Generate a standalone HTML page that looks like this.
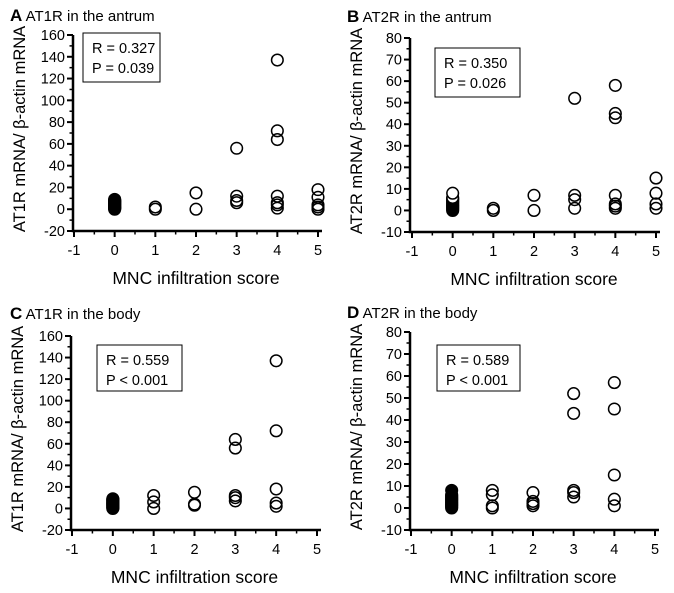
<!DOCTYPE html>
<html><head><meta charset="utf-8"><style>
body{margin:0;background:#fff;width:674px;height:588px;overflow:hidden}
svg text{font-family:"Liberation Sans",sans-serif;fill:#000}
</style></head><body>
<svg id="fig" width="674" height="588" viewBox="0 0 674 588" xmlns="http://www.w3.org/2000/svg"></svg>
<script>
const panelLetters=["A","B","C","D"];
const panelTitles=["AT1R in the antrum","AT2R in the antrum","AT1R in the body","AT2R in the body"];
const yTitles=["AT1R mRNA/ β-actin mRNA","AT2R mRNA/ β-actin mRNA","AT1R mRNA/ β-actin mRNA","AT2R mRNA/ β-actin mRNA"];
const statR=["R = 0.327","R = 0.350","R = 0.559","R = 0.589"];
const statP=["P = 0.039","P = 0.026","P < 0.001","P < 0.001"];
const xTicks=[-1,0,1,2,3,4,5];
const yTicksAT1=[-20,0,20,40,60,80,100,120,140,160];
const yTicksAT2=[-10,0,10,20,30,40,50,60,70,80];
const zeroCluster=[0,0.5,1,1.5,2,2.5,3,3.5,4,4.5,5,5.5,6,6.5,7,7.5,8,8.5,9];
const zeroCluster2=[0,0.5,1,1.5,2,2.5,3,3.5,4,4.5,5,5.5,6,8];
const scoresA=[1,1,2,2,3,3,3,3,4,4,4,4,4,4,4,5,5,5,5,5];
const valuesA=[0,2,15,0,56,12,8,6,137,72,64,12,6,4,1,18,11,4,2,0];
const scoresB=[1,1,2,2,3,3,3,3,4,4,4,4,4,4,4,5,5,5,5];
const valuesB=[0,1,7,0,52,7,5,1,58,45,43,7,3,2,1,15,8,3,1];
const scoresC=[1,1,1,2,2,2,3,3,3,3,3,4,4,4,4,4];
const valuesC=[12,6,0,15,4,3,64,56,12,10,7,137,72,18,5,2];
const scoresD=[1,1,1,1,2,2,2,2,3,3,3,3,3,4,4,4,4,4];
const valuesD=[8,6,1,0,7,3,2,1,52,43,8,7,5,57,45,15,4,1];

const panels=[
 {top:35,bot:231,ax:73,x0:74,x1:318,yt:yTicksAT1,box:[83,33,77,49],ty:15,tx:10,zc:zeroCluster,zfill:true,sc:scoresA,va:valuesA},
 {top:38,bot:232,ax:410,x0:412,x1:656,yt:yTicksAT2,box:[435,48,85,49],ty:16,tx:347,zc:zeroCluster2,zfill:false,sc:scoresB,va:valuesB},
 {top:336,bot:530,ax:71,x0:72,x1:317,yt:yTicksAT1,box:[97,345,85,46],ty:313,tx:10,zc:zeroCluster,zfill:true,sc:scoresC,va:valuesC},
 {top:332,bot:530,ax:410,x0:411,x1:655,yt:yTicksAT2,box:[437,345,83,46],ty:312,tx:347,zc:zeroCluster2,zfill:true,sc:scoresD,va:valuesD}
];
const svg=document.getElementById('fig');
const NS="http://www.w3.org/2000/svg";
function mk(t,a,p){const e=document.createElementNS(NS,t);for(const k in a)e.setAttribute(k,a[k]);(p||svg).appendChild(e);return e;}
panels.forEach((P,i)=>{
  const g=mk('g',{});
  
  
  const ymin=P.yt[0],ymax=P.yt[P.yt.length-1];
  const xs=v=>P.x0+(v-xTicks[0])/(xTicks[xTicks.length-1]-xTicks[0])*(P.x1-P.x0);
  const ys=v=>P.bot-(v-ymin)/(ymax-ymin)*(P.bot-P.top);
  const t=mk('text',{x:P.tx,y:P.ty+6,'font-size':15},g);
  
  
  t.innerHTML='<tspan font-weight="bold" font-size="17">'+panelLetters[i]+'</tspan> '+panelTitles[i];
  const axl=mk('path',{d:`M${P.ax},${P.top}V${P.bot}H${P.x1+4}`,stroke:'#000','stroke-width':2.5,fill:'none'},g);
  
  
  const step=P.yt[1]-P.yt[0];
  P.yt.forEach((v,k)=>{
    mk('line',{x1:P.ax-6,x2:P.ax,y1:ys(v),y2:ys(v),stroke:'#000','stroke-width':2},g);
    if(k<P.yt.length-1){const m=v+step/2;mk('line',{x1:P.ax-3.5,x2:P.ax,y1:ys(m),y2:ys(m),stroke:'#000','stroke-width':1.5},g);}
    const l=mk('text',{x:P.ax-8,y:ys(v)+5,'font-size':14.5,'text-anchor':'end'},g);
    
    
    l.textContent=v;
  });
  xTicks.forEach((v,k)=>{
    mk('line',{x1:xs(v),x2:xs(v),y1:P.bot,y2:P.bot+6,stroke:'#000','stroke-width':2},g);
    if(k<xTicks.length-1){const m=v+0.5;mk('line',{x1:xs(m),x2:xs(m),y1:P.bot,y2:P.bot+3.5,stroke:'#000','stroke-width':1.5},g);}
    const l=mk('text',{x:xs(v),y:P.bot+24,'font-size':14.5,'text-anchor':'middle'},g);
    
    
    l.textContent=v;
  });
  const xt=mk('text',{x:(P.x0+P.x1)/2,y:P.bot+53,'font-size':17.5,'text-anchor':'middle'},g);
  
  
  xt.textContent='MNC infiltration score';
  const cy=(P.top+P.bot)/2-4, cx=P.ax-48;
  const yt=mk('text',{x:cx,y:cy,'font-size':16.5,'text-anchor':'middle',transform:`rotate(-90 ${cx} ${cy})`},g);
  
  
  yt.textContent=yTitles[i];
  const b=P.box;
  const r=mk('rect',{x:b[0],y:b[1],width:b[2],height:b[3],fill:'#fff',stroke:'#000','stroke-width':1},g);
  
  
  const s1=mk('text',{x:b[0]+9,y:b[1]+20,'font-size':14.5},g);
  
  
  s1.textContent=statR[i];
  const s2=mk('text',{x:b[0]+9,y:b[1]+40,'font-size':14.5},g);
  
  
  s2.textContent=statP[i];
  P.zc.forEach(v=>{
    const c=mk('circle',{cx:xs(0),cy:ys(v),r:5.8,fill:P.zfill?'#000':'#fff',stroke:'#000','stroke-width':1.5},g);
    
    
  });
  P.sc.forEach((s,k)=>{
    const c=mk('circle',{cx:xs(s),cy:ys(P.va[k]),r:5.8,fill:'none',stroke:'#000','stroke-width':1.5},g);
    
    
  });
});
</script>
</body></html>
